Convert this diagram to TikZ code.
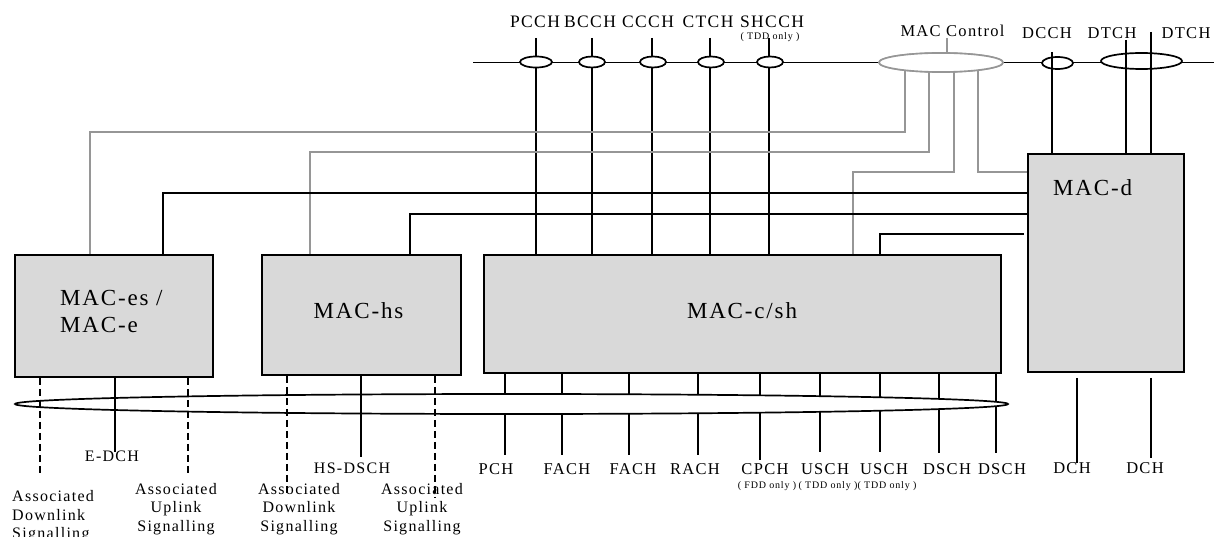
\documentclass[tikz,border=0pt]{standalone}
\usepackage{fontspec}
\setmainfont{Liberation Serif}[LetterSpace=8]
\usetikzlibrary{shapes.geometric}
\definecolor{boxgray}{RGB}{217,217,217}
\definecolor{ctlgray}{RGB}{150,150,150}
\newcommand{\myfs}[2]{\fontsize{#1}{#2}\selectfont}
\begin{document}
\begin{tikzpicture}[x=1pt,y=-1pt,
  ln/.style={line width=1.7pt, black},
  ctl/.style={line width=1.6pt, ctlgray},
  dsh/.style={line width=1.9pt, black, dash pattern=on 7pt off 4pt},
  macbox/.style={draw, line width=1.7pt, fill=boxgray, inner sep=0pt},
  boxtxt/.style={font=\myfs{23}{27}, inner sep=0pt},
  chl/.style={font=\myfs{17.5}{20}, inner sep=0pt, anchor=base},
  mcl/.style={font=\myfs{16.5}{19}, inner sep=0pt, anchor=base},
  bl/.style={font=\myfs{16.5}{18}, inner sep=0pt, anchor=base},
  sigl/.style={font=\myfs{16}{18.5}, inner sep=0pt},
  note/.style={font=\myfs{10}{11}, inner sep=0pt, anchor=base},
  tap/.style={ellipse, draw, line width=1.7pt, fill=white, inner sep=0pt},
]
\useasboundingbox (0,0) rectangle (1214,537);

% ---- boxes ----
\node[macbox, minimum width=198pt, minimum height=122pt] (es) at (114,316) {};
\node[macbox, minimum width=199pt, minimum height=120pt] (hs) at (361.5,315) {};
\node[macbox, minimum width=517pt, minimum height=118pt] (cs) at (742.5,314) {};
\node[macbox, minimum width=156pt, minimum height=218pt] (md) at (1106,263) {};

\node[boxtxt, align=left, anchor=north west] (estxt) at (60,289.7) {MAC-es /\\MAC-e};
\node[boxtxt] (hstxt) at (358.5,310.5) {MAC-hs};
\node[boxtxt] (cstxt) at (742,311) {MAC-c/sh};
\node[boxtxt, anchor=west] (mdtxt) at (1053,188) {MAC-d};

% ---- top line ----
\coordinate (tl) at (473,62.5);
\coordinate (tr) at (1214,62.5);
\draw[ln] (tl) -- (tr);

% ---- common channel lines ----
\coordinate (c1) at (536,38);
\coordinate (c2) at (592,38);
\coordinate (c3) at (652,38);
\coordinate (c4) at (710,38);
\coordinate (c5) at (769,38);
\foreach \i in {1,...,5} \draw[ln] (c\i) -- (c\i |- cs.north);

% ---- MAC control lines (grey) ----
\node[tap, draw=ctlgray, minimum width=124pt, minimum height=19pt] (mc) at (941,62.5) {};
\draw[ctl] ([xshift=-24pt]es.north) -- ++(0,-122) -| ([xshift=-36pt]mc.center);
\draw[ctl] ([xshift=-51.5pt]hs.north) -- ++(0,-102) -| ([xshift=-12pt]mc.center);
\draw[ctl] ([xshift=110.5pt]cs.north) -- ++(0,-82) -| ([xshift=13pt]mc.center);
\draw[ctl] ([yshift=-19pt]md.north west) -| ([xshift=37pt]mc.center);

% ---- MAC-d lines (black) ----
\draw[ln] ([yshift=-40pt]md.north west) -| ([xshift=49pt]es.north);
\draw[ln] ([yshift=-61pt]md.north west) -| ([xshift=48.5pt]hs.north);
\draw[ln] ([yshift=-81pt,xshift=-3pt]md.north west) -| ([xshift=137.5pt]cs.north);

% ---- ellipses on top line ----
\node[tap, minimum width=32pt, minimum height=11pt] (e1) at (536,62) {};
\node[tap, minimum width=26pt, minimum height=11pt] (e2) at (592,62) {};
\node[tap, minimum width=26pt, minimum height=11pt] (e3) at (653,62) {};
\node[tap, minimum width=26pt, minimum height=11pt] (e4) at (711,62) {};
\node[tap, minimum width=26pt, minimum height=11pt] (e5) at (770,62) {};
\node[tap, draw=ctlgray, line width=1.6pt, minimum width=124pt, minimum height=19pt] (mc2) at (941,62.5) {};
\node[tap, minimum width=31pt, minimum height=12pt] (edc) at (1057.5,63) {};
\node[tap, minimum width=81pt, minimum height=16pt] (edt) at (1141.5,61) {};

% grey tick to MAC Control label
\coordinate (mck) at (947,38);
\draw[ctl] (mck) -- (mck |- mc2.north);

% dedicated lines
\coordinate (dc) at (1052,52);
\coordinate (dt1) at (1126,40);
\coordinate (dt2) at (1151,32);
\draw[ln] (dc) -- (dc |- md.north);
\draw[ln] (dt1) -- (dt1 |- md.north);
\draw[ln] (dt2) -- ([yshift=-1.5pt]dt2 |- md.north);

% ---- top labels ----
\node[chl] (lpcch) at (535,28) {PCCH};
\node[chl] (lbcch) at (590,28) {BCCH};
\node[chl] (lccch) at (648,28) {CCCH};
\node[chl] (lctch) at (708,28) {CTCH};
\node[chl] (lshcch) at (772,28) {SHCCH};
\node[note] (lshn) at (770,39.3) {( TDD only )};
\node[mcl] (lmc) at (952.5,37) {MAC Control};
\node[mcl] (ldcch) at (1047,38.6) {DCCH};
\node[mcl] (ldtch1) at (1112,38.6) {DTCH};
\node[mcl] (ldtch2) at (1186,38.6) {DTCH};

% ---- MAC-c/sh transport lines ----
\coordinate (b1) at (505,455);
\coordinate (b2) at (562,455);
\coordinate (b3) at (629,455);
\coordinate (b4) at (698,455);
\coordinate (b5) at (760,460);
\coordinate (b6) at (820,452);
\coordinate (b7) at (880,452);
\coordinate (b8) at (939,453);
\coordinate (b9) at (996,453);
\foreach \i in {1,...,9} \draw[ln] (b\i |- cs.south) -- (b\i);

\node[tap, minimum width=993pt, minimum height=20pt] (bus) at (511.5,404) {};

% ---- MAC-es / MAC-hs lines ----
\coordinate (ea) at (40,473);
\coordinate (eb) at (115,452);
\coordinate (ec) at (188,473);
\draw[dsh] (ea |- es.south) -- (ea);
\draw[ln] (eb |- es.south) -- (eb);
\draw[dsh] (ec |- es.south) -- (ec);
\coordinate (ha) at (287,493);
\coordinate (hb) at (361,457);
\coordinate (hc) at (435,497);
\draw[dsh] (ha |- hs.south) -- (ha);
\draw[ln] (hb |- hs.south) -- (hb);
\draw[dsh] (hc |- hs.south) -- (hc);

% ---- MAC-d DCH lines ----
\coordinate (d1) at (1077,463);
\coordinate (d2) at (1151,458);
\draw[ln] ([yshift=-5pt]d1 |- md.south) -- (d1);
\draw[ln] ([yshift=-5pt]d2 |- md.south) -- (d2);

% ---- bottom labels ----
\node[bl] (lpch) at (496,474.5) {PCH};
\node[bl] (lfach1) at (567,474.5) {FACH};
\node[bl] (lfach2) at (633,474.5) {FACH};
\node[bl] (lrach) at (695,474.5) {RACH};
\node[bl] (lcpch) at (765,474.5) {CPCH};
\node[bl] (lusch1) at (825,474.5) {USCH};
\node[bl] (lusch2) at (884,474.5) {USCH};
\node[bl] (ldsch1) at (947,474.5) {DSCH};
\node[bl] (ldsch2) at (1002,474.5) {DSCH};
\node[note] (ncpch) at (767,488.3) {( FDD only )};
\node[note] (nusch1) at (828,488.3) {( TDD only )};
\node[note] (nusch2) at (887,488.3) {( TDD only )};
\node[bl] (ldch1) at (1072,473) {DCH};
\node[bl] (ldch2) at (1145,473) {DCH};
\node[bl, font=\myfs{16}{18}] (ledch) at (112,461.3) {E-DCH};
\node[bl, font=\myfs{16}{18}] (lhsdsch) at (352,473) {HS-DSCH};

\node[sigl, align=left, anchor=north west] (sig1) at (12,490.3) {Associated\\Downlink\\Signalling};
\node[sigl, align=center, anchor=north] (sig2) at (176,482.7) {Associated\\Uplink\\Signalling};
\node[sigl, align=center, anchor=north] (sig3) at (299,482.7) {Associated\\Downlink\\Signalling};
\node[sigl, align=center, anchor=north] (sig4) at (422,482.7) {Associated\\Uplink\\Signalling};
\end{tikzpicture}
\end{document}
